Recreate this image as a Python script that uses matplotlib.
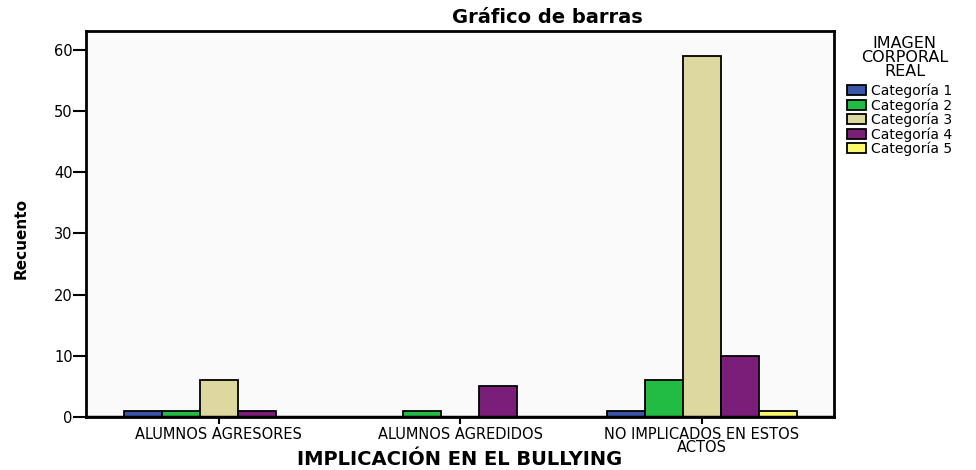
import numpy as np
import matplotlib.pyplot as plt

plt.rcParams['font.family'] = ['DejaVu Sans']

# Data
groups = ["ALUMNOS AGRESORES", "ALUMNOS AGREDIDOS", "NO IMPLICADOS EN ESTOS\nACTOS"]
series = ["Categoría 1", "Categoría 2", "Categoría 3", "Categoría 4", "Categoría 5"]
cat1 = [1, 0, 1]
cat2 = [1, 1, 6]
cat3 = [6, 0, 59]
cat4 = [1, 5, 10]
cat5 = [0, 0, 1]
colors = ["#3b55a8", "#22bb44", "#dcd89f", "#7b1e7a", "#fbfa6c"]

values = [cat1, cat2, cat3, cat4, cat5]

fig = plt.figure(figsize=(9.76, 4.70), dpi=100)
ax = fig.add_axes([0.0881, 0.1128, 0.7664, 0.8213])
ax.set_facecolor("#fafafa")

x = np.arange(len(groups))
width = 0.157
handles = []
for i, (vals, name, c) in enumerate(zip(values, series, colors)):
    pos = x + (i - 2) * width
    v = np.array(vals, dtype=float)
    mask = v > 0
    bars = ax.bar(pos[mask], v[mask], width=width, color=c,
                  edgecolor="black", linewidth=1.3, label=name)
    handles.append(bars)

ax.set_xlim(-0.55, 2.547)
ax.set_ylim(0, 63.1)
ax.set_yticks([0, 10, 20, 30, 40, 50, 60])
ax.set_xticks(x)
ax.set_xticklabels(groups, fontsize=10.5, linespacing=0.85)
ax.tick_params(axis='y', length=9.5, width=1.5, labelsize=10.5, pad=0)
ax.tick_params(axis='x', length=5, width=1.5, pad=2)

for s in ax.spines.values():
    s.set_linewidth(2)
ax.axhline(0, color="black", linewidth=2.5)

# Titles
fig.text(0.561, 0.962, "Gráfico de barras", ha='center', va='center',
         fontsize=14, fontweight='bold')
fig.text(0.471, 0.022, "IMPLICACIÓN EN EL BULLYING", ha='center', va='center',
         fontsize=14, fontweight='bold')
fig.text(0.022, 0.493, "Recuento", ha='center', va='center', rotation=90,
         fontsize=11, fontweight='bold')

# Legend
fig.text(0.927, 0.878, "IMAGEN\nCORPORAL\nREAL", ha='center', va='center',
         fontsize=11.5, linespacing=0.92, multialignment='center')
fig.legend(handles=handles, labels=series, loc='upper left',
           bbox_to_anchor=(0.868, 0.822), frameon=False, fontsize=10,
           handlelength=1.35, handleheight=0.75, handletextpad=0.35,
           labelspacing=0.0, borderpad=0, borderaxespad=0)

fig.savefig("out.png", dpi=100)
